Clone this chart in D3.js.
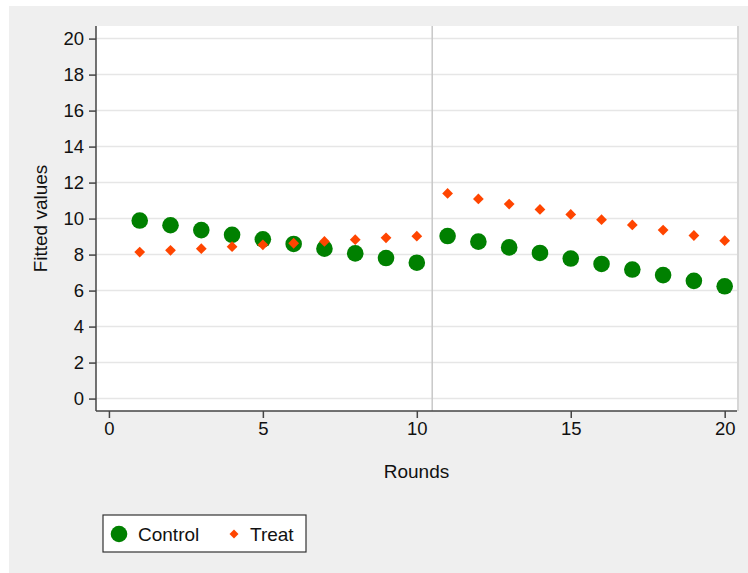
<!DOCTYPE html>
<html>
<head>
<meta charset="utf-8">
<script src="https://cdn.jsdelivr.net/npm/d3@7"></script>
<style>
  body { margin:0; background:#fff; }
  svg text { font-family:"Liberation Sans", Arial, sans-serif; fill:#111; }
</style>
</head>
<body>
<svg id="chart"></svg>
<script>
// rounds 1..20, treatment starts after round 10
var rounds = [1,2,3,4,5,6,7,8,9,10,11,12,13,14,15,16,17,18,19,20];
var controlVals = [9.89,9.63,9.36,9.10,8.85,8.59,8.33,8.07,7.81,7.55,
                   9.03,8.72,8.40,8.09,7.78,7.48,7.17,6.86,6.54,6.24];
var treatVals = [8.14,8.24,8.33,8.44,8.54,8.63,8.73,8.83,8.93,9.02,
                 11.40,11.09,10.81,10.51,10.23,9.94,9.65,9.36,9.06,8.77];
var xTicks = [0,5,10,15,20];
var yTicks = [0,2,4,6,8,10,12,14,16,18,20];
var splitAt = 10.5;

var screen = {width:748, height:573};
var margins = {top:26, left:96, right:11, bottom:162};
var graph = {
    width:screen.width-margins.left-margins.right,
    height:screen.height-margins.top-margins.bottom
};

var svg = d3.select("#chart")
    .attr("width",screen.width)
    .attr("height",screen.height);

// outer grey panel
svg.append("rect")
    .attr("x",9).attr("y",6)
    .attr("width",screen.width-9).attr("height",screen.height-6)
    .attr("fill","#efefef");

var xScale = d3.scaleLinear()
    .domain([-0.42,20.4])
    .range([0,graph.width]);
var yScale = d3.scaleLinear()
    .domain([-0.69,20.7])
    .range([graph.height,0]);

var g = svg.append("g")
    .attr("transform","translate("+margins.left+","+margins.top+")");

g.append("rect")
    .attr("width",graph.width).attr("height",graph.height)
    .attr("fill","#fff");
g.append("line")
    .attr("x1",graph.width+1).attr("x2",graph.width+1)
    .attr("y1",0).attr("y2",graph.height)
    .attr("stroke","#d6d6d6").attr("stroke-width",2);

// horizontal gridlines
g.selectAll(".grid")
    .data(yTicks)
    .enter()
    .append("line")
    .attr("x1",0).attr("x2",graph.width)
    .attr("y1",function(d){ return yScale(d); })
    .attr("y2",function(d){ return yScale(d); })
    .attr("stroke","#e6e6e6").attr("stroke-width",1.5);

// divider between phases
g.append("line")
    .attr("x1",xScale(splitAt)).attr("x2",xScale(splitAt))
    .attr("y1",0).attr("y2",graph.height)
    .attr("stroke","#c8c8c8").attr("stroke-width",1.5);

// axes
var xAxis = d3.axisBottom(xScale).tickValues(xTicks).tickSize(7).tickPadding(4).tickSizeOuter(0);
var yAxis = d3.axisLeft(yScale).tickValues(yTicks).tickSize(7).tickPadding(5).tickSizeOuter(0);

var xg = g.append("g")
    .attr("transform","translate(0,"+graph.height+")")
    .call(xAxis);
var yg = g.append("g").call(yAxis);

[xg,yg].forEach(function(a){
    a.select(".domain").attr("stroke","#444").attr("stroke-width",1.5);
    a.selectAll(".tick line").attr("stroke","#444").attr("stroke-width",1.5);
    a.selectAll(".tick text")
        .attr("font-family","Liberation Sans, Arial, sans-serif")
        .attr("font-size",18.5).attr("fill","#111");
});
xg.select(".domain").attr("d","M0,0H"+graph.width);
yg.select(".domain").attr("d","M0,0V"+graph.height);

// axis titles
svg.append("text")
    .attr("x",margins.left+graph.width/2).attr("y",478)
    .attr("text-anchor","middle").attr("font-size",19)
    .text("Rounds");
svg.append("text")
    .attr("transform","translate(47,"+(margins.top+graph.height/2)+") rotate(-90)")
    .attr("text-anchor","middle").attr("font-size",19)
    .text("Fitted values");

var diamond = d3.symbol().type(d3.symbolSquare).size(58);

// control markers
g.selectAll(".ctrl")
    .data(rounds)
    .enter()
    .append("circle")
    .attr("cx",function(d){ return xScale(d); })
    .attr("cy",function(d,i){ return yScale(controlVals[i]); })
    .attr("r",8.3)
    .attr("fill","#008000");

// treatment markers
g.selectAll(".treat")
    .data(rounds)
    .enter()
    .append("path")
    .attr("d",diamond)
    .attr("transform",function(d,i){
        return "translate("+xScale(d)+","+yScale(treatVals[i])+") rotate(45)";
    })
    .attr("fill","#ff4500");

// legend
var leg = svg.append("g");
leg.append("rect")
    .attr("x",103).attr("y",515).attr("width",203).attr("height",37)
    .attr("fill","#fff").attr("stroke","#333").attr("stroke-width",1.2);
leg.append("circle")
    .attr("cx",119).attr("cy",534).attr("r",8.3).attr("fill","#008000");
leg.append("text")
    .attr("x",138).attr("y",541).attr("font-size",19).text("Control");
leg.append("path")
    .attr("d",d3.symbol().type(d3.symbolSquare).size(40))
    .attr("transform","translate(234,534) rotate(45)")
    .attr("fill","#ff4500");
leg.append("text")
    .attr("x",250).attr("y",541).attr("font-size",19).text("Treat");
</script>
</body>
</html>
